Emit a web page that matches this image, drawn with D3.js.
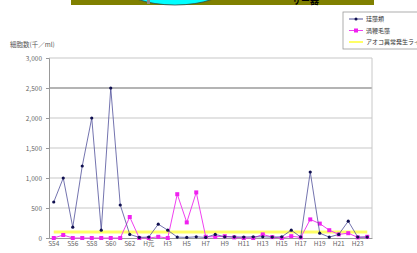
<!DOCTYPE html>
<html>
<head>
<meta charset="utf-8">
<script src="https://cdn.jsdelivr.net/npm/d3@7"></script>
<style>
  body { margin: 0; background: #fff; }
  svg text { font-family: "Noto Sans CJK JP", "Noto Sans", sans-serif; }
</style>
</head>
<body>
<div id="chart"></div>
<script>
// years S54 (1979) .. H24 (2012)
const years = ["S54","S55","S56","S57","S58","S59","S60","S61","S62","S63","H元","H2","H3","H4","H5","H6","H7","H8","H9","H10","H11","H12","H13","H14","H15","H16","H17","H18","H19","H20","H21","H22","H23","H24"]
const tick_labels = ["S54","S56","S58","S60","S62","H元","H3","H5","H7","H9","H11","H13","H15","H17","H19","H21","H23"]
const y_ticks = [0, 500, 1000, 1500, 2000, 2500, 3000]
const series_names = ["珪藻類", "渦鞭毛藻", "アオコ異常発生ライン"]
const diatom = [600,1000,180,1200,2000,130,2500,550,60,10,15,230,130,15,10,20,10,60,20,20,15,20,20,15,20,130,15,1100,80,15,60,280,15,15]
const dino = [0,50,0,0,0,0,0,0,350,0,0,20,0,730,260,760,20,20,30,10,0,0,60,15,0,30,10,310,240,130,60,80,10,20]
const threshold = 100

const W = 417, H = 253
const margin = {top: 58, right: 45, bottom: 15, left: 49}
const width = W - margin.left - margin.right,
      height = H - margin.top - margin.bottom

const root = d3.select("#chart").append("svg")
    .attr("width", W)
    .attr("height", H)

// leftover banner at top edge of the picture
root.append("rect").attr("x", 71).attr("y", 0).attr("width", 303).attr("height", 5).attr("fill", "#808000")
root.append("ellipse").attr("cx", 175).attr("cy", -14).attr("rx", 52).attr("ry", 19)
    .attr("fill", "#00FFFF").attr("stroke", "#2a4a4a").attr("stroke-width", 0.8)
root.append("rect").attr("x", 147).attr("y", 0).attr("width", 3).attr("height", 4).attr("fill", "#888")
root.append("text").attr("x", 292).attr("y", 4).text("サー器")
    .style("font-size", "9px").style("font-weight", "bold").attr("fill", "#000")

const svg = root.append("g")
    .attr("transform", "translate(" + margin.left + "," + margin.top + ")")

const x = d3.scaleBand().domain(years).range([0, width])
const xc = d => x(d) + x.bandwidth() / 2
const y = d3.scaleLinear().domain([0, 3000]).range([height, 0])

// gridlines
svg.append("g")
    .selectAll("line")
    .data(y_ticks.filter(d => d > 0))
    .join("line")
    .attr("x1", 0).attr("x2", width)
    .attr("y1", d => y(d)).attr("y2", d => y(d))
    .attr("stroke", d => d === 2500 ? "#b4b4b4" : "#c8c8c8")
    .attr("stroke-width", d => d === 2500 ? 2 : 1.2)

// right border
svg.append("line").attr("x1", width).attr("x2", width).attr("y1", 0).attr("y2", height)
    .attr("stroke", "#c8c8c8")

// y axis
svg.append("g")
    .call(d3.axisLeft(y).tickValues(y_ticks).tickSize(3).tickPadding(4).tickFormat(d3.format(",")))
    .call(g => g.selectAll("text").style("font-size", "6.5px").attr("fill", "#666"))
    .call(g => g.selectAll("line, path").attr("stroke", "#999"))

// x axis
svg.append("g")
    .attr("transform", "translate(0," + height + ")")
    .call(d3.axisBottom(x).tickValues(tick_labels).tickSize(0).tickPadding(3).tickSizeOuter(0))
    .call(g => g.selectAll("text").style("font-size", "6.5px").attr("fill", "#666"))
    .call(g => g.selectAll("line, path").attr("stroke", "#999"))

// threshold line
svg.append("line")
    .attr("x1", xc(years[0])).attr("x2", xc(years[years.length - 1]))
    .attr("y1", y(threshold)).attr("y2", y(threshold))
    .attr("stroke", "#ffff66").attr("stroke-width", 3)

const line = d3.line().x((d, i) => xc(years[i])).y(d => y(d))

svg.append("path").datum(dino)
    .attr("fill", "none").attr("stroke", "#f040f0").attr("stroke-width", 1)
    .attr("d", line)
svg.append("g").selectAll("rect").data(dino).join("rect")
    .attr("x", (d, i) => xc(years[i]) - 2).attr("y", d => y(d) - 2)
    .attr("width", 4).attr("height", 4).attr("fill", "#f020f0")

svg.append("path").datum(diatom)
    .attr("fill", "none").attr("stroke", "#50509a").attr("stroke-width", 0.8)
    .attr("d", line)
svg.append("g").selectAll("circle").data(diatom).join("circle")
    .attr("cx", (d, i) => xc(years[i])).attr("cy", d => y(d))
    .attr("r", 1.6).attr("fill", "#101050")

// y axis title
root.append("text").attr("x", 10).attr("y", 47).text("細胞数(千／ml)")
    .style("font-size", "6.5px").attr("fill", "#555")

// legend
const lg = root.append("g").attr("transform", "translate(343,12)")
lg.append("rect").attr("width", 80).attr("height", 37)
    .attr("fill", "#fff").attr("stroke", "#999").attr("stroke-width", 0.8)
const colors = ["#50509a", "#f040f0", "#ffff66"]
series_names.forEach((name, i) => {
    const yy = 7 + i * 11.5
    lg.append("line").attr("x1", 6).attr("x2", 20).attr("y1", yy).attr("y2", yy)
        .attr("stroke", colors[i]).attr("stroke-width", i === 2 ? 2 : 1)
    if (i === 0) lg.append("circle").attr("cx", 13).attr("cy", yy).attr("r", 1.5).attr("fill", "#101050")
    if (i === 1) lg.append("rect").attr("x", 11).attr("y", yy - 2).attr("width", 4).attr("height", 4).attr("fill", "#f020f0")
    lg.append("text").attr("x", 23).attr("y", yy + 2.3).text(name)
        .style("font-size", "6px").attr("fill", "#333")
})
</script>
</body>
</html>
